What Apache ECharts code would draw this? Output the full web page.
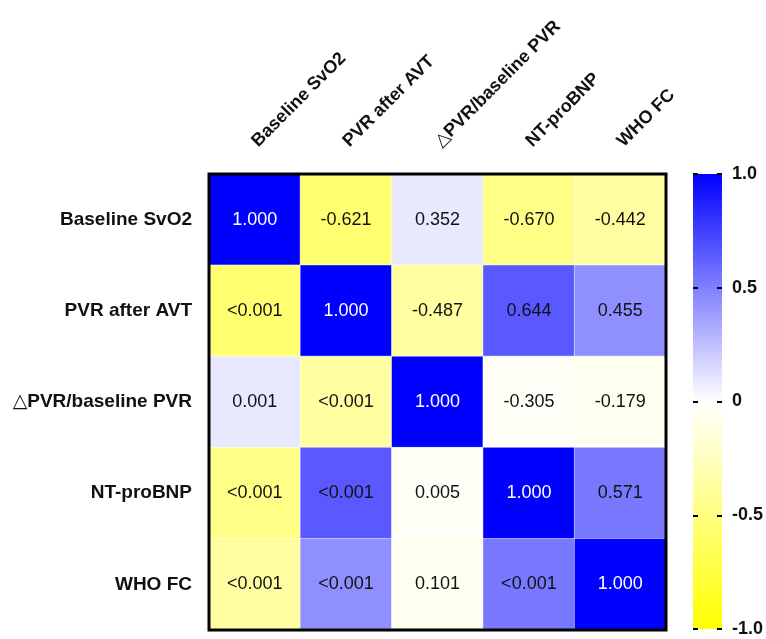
<!DOCTYPE html>
<html>
<head>
<meta charset="utf-8">
<script src="https://cdn.jsdelivr.net/npm/echarts@6/dist/echarts.min.js"></script>
<style>
html,body{margin:0;padding:0;background:#fff;}
#chart{width:766px;height:639px;}
</style>
</head>
<body>
<div id="chart"></div>
<script>
var categories = ['Baseline SvO2', 'PVR after AVT', '\u25B3PVR/baseline PVR', 'NT-proBNP', 'WHO FC'];

// text shown in each cell (upper: r, lower: p)
var row0Labels = ['1.000', '-0.621', '0.352', '-0.670', '-0.442'];
var row1Labels = ['<0.001', '1.000', '-0.487', '0.644', '0.455'];
var row2Labels = ['0.001', '<0.001', '1.000', '-0.305', '-0.179'];
var row3Labels = ['<0.001', '<0.001', '0.005', '1.000', '0.571'];
var row4Labels = ['<0.001', '<0.001', '0.101', '<0.001', '1.000'];

// colour value of each cell
var row0Colors = [1.00, -0.56, 0.09, -0.47, -0.37];
var row1Colors = [-0.56, 1.00, -0.37, 0.65, 0.44];
var row2Colors = [0.09, -0.37, 1.00, -0.03, -0.06];
var row3Colors = [-0.47, 0.65, -0.03, 1.00, 0.53];
var row4Colors = [-0.37, 0.44, -0.06, 0.53, 1.00];

var colorbarTicks = [1, 0.5, 0, -0.5, -1];
var colorbarLabels = ['1.0', '0.5', '0', '-0.5', '-1.0'];

var labelRows = [row0Labels, row1Labels, row2Labels, row3Labels, row4Labels];
var colorRows = [row0Colors, row1Colors, row2Colors, row3Colors, row4Colors];

var FONT = "'Liberation Sans', Arial, 'DejaVu Sans', sans-serif";

var data = [];
for (var r = 0; r < labelRows.length; r++) {
  for (var c = 0; c < labelRows[r].length; c++) {
    var v = colorRows[r][c];
    data.push({
      value: [c, r, v, labelRows[r][c]],
      label: { color: v > 0.8 ? '#ffffff' : '#111111' }
    });
  }
}

var chart = echarts.init(document.getElementById('chart'), null, { renderer: 'canvas' });
chart.setOption({
  backgroundColor: '#ffffff',
  animation: false,
  grid: [
    { left: 209, top: 174, width: 457, height: 456, show: true, z: 10,
      backgroundColor: 'transparent', borderColor: '#000000', borderWidth: 3 },
    { left: 693, top: 174, width: 30, height: 455, show: true, borderWidth: 0,
      backgroundColor: {
        type: 'linear', x: 0, y: 0, x2: 0, y2: 1,
        colorStops: [
          { offset: 0, color: '#0000ff' },
          { offset: 0.5, color: '#ffffff' },
          { offset: 1, color: '#ffff00' }
        ]
      } }
  ],
  xAxis: [
    { type: 'category', gridIndex: 0, data: categories, position: 'top',
      axisLine: { show: false }, axisTick: { show: false }, splitLine: { show: false },
      axisLabel: { rotate: -45, interval: 0, margin: 30,
        fontFamily: FONT, fontWeight: 'bold', fontSize: 18, color: '#111111' } },
    { type: 'value', gridIndex: 1, min: 0, max: 1, show: false }
  ],
  yAxis: [
    { type: 'category', gridIndex: 0, data: categories, inverse: true,
      axisLine: { show: false }, axisTick: { show: false }, splitLine: { show: false },
      axisLabel: { interval: 0, margin: 17, fontFamily: FONT, fontWeight: 'bold', fontSize: 19, color: '#111111' } },
    { type: 'value', gridIndex: 1, min: -1, max: 1, interval: 0.5, position: 'left',
      axisLine: { show: false }, splitLine: { show: false }, axisLabel: { show: false },
      axisTick: { show: true, inside: true, length: 5, lineStyle: { color: '#000', width: 2 } } },
    { type: 'value', gridIndex: 1, min: -1, max: 1, interval: 0.5, position: 'right',
      axisLine: { show: false }, splitLine: { show: false },
      axisTick: { show: true, inside: true, length: 5, lineStyle: { color: '#000', width: 2 } },
      axisLabel: { margin: 10, fontFamily: FONT, fontWeight: 'bold', fontSize: 18, color: '#111111',
        formatter: function (v) {
          var i = colorbarTicks.indexOf(v);
          return i >= 0 ? colorbarLabels[i] : '';
        } } }
  ],
  visualMap: {
    show: false, type: 'continuous', min: -1, max: 1, dimension: 2, seriesIndex: 0,
    inRange: { color: ['#ffff00', '#ffffff', '#0000ff'] }
  },
  series: [{
    type: 'heatmap', xAxisIndex: 0, yAxisIndex: 0, z: 2,
    data: data,
    itemStyle: { borderColor: 'rgba(255,255,255,0.45)', borderWidth: 1 },
    label: {
      show: true, fontFamily: FONT, fontSize: 18,
      formatter: function (p) { return p.value[3]; }
    },
    emphasis: { disabled: true }
  }]
});
</script>
</body>
</html>
